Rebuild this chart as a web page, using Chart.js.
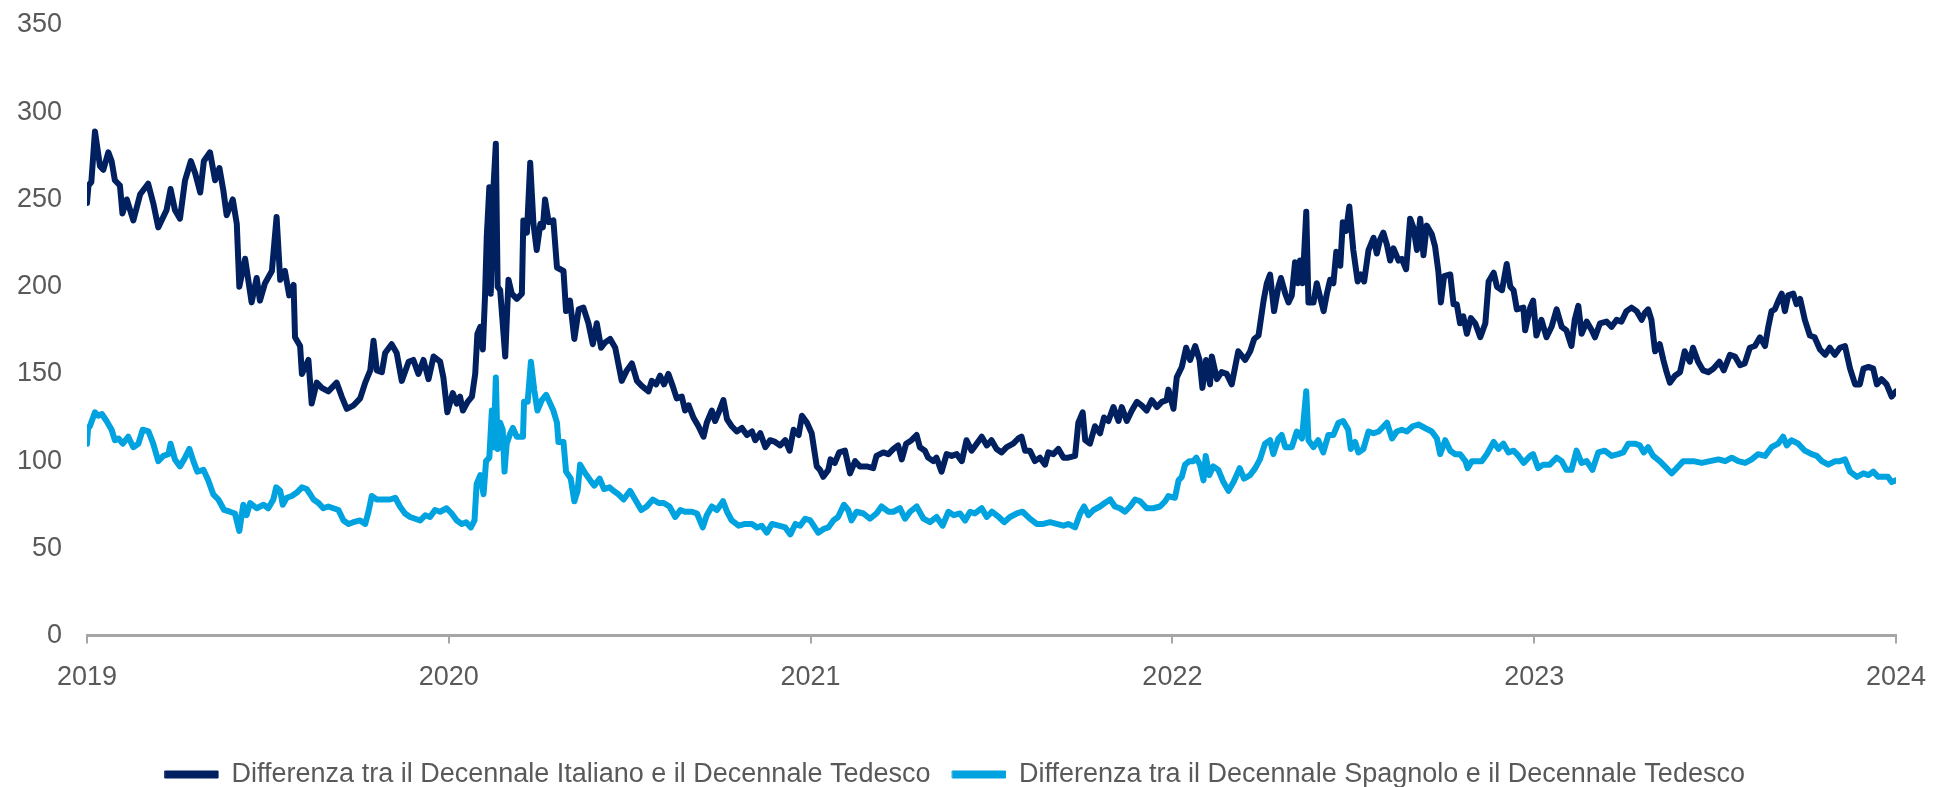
<!DOCTYPE html>
<html>
<head>
<meta charset="utf-8">
<script src="https://cdn.jsdelivr.net/npm/chart.js@4"></script>
<style>
  html, body { margin: 0; padding: 0; background: #ffffff; }
  #wrap { width: 1953px; height: 787px; }
</style>
</head>
<body>
<div id="wrap"><canvas id="chart" width="1953" height="787"></canvas></div>
<script>
// Spread vs Bund (bps), dates as decimal years
const itDates = [
  2019.000, 2019.004, 2019.012, 2019.022, 2019.036, 2019.045, 2019.059, 2019.068, 2019.077, 2019.091,
  2019.098, 2019.110, 2019.128, 2019.147, 2019.169, 2019.183, 2019.197, 2019.220, 2019.231, 2019.243,
  2019.257, 2019.271, 2019.287, 2019.299, 2019.313, 2019.323, 2019.340, 2019.354, 2019.366, 2019.377,
  2019.386, 2019.403, 2019.414, 2019.421, 2019.437, 2019.455, 2019.469, 2019.478, 2019.492, 2019.511,
  2019.524, 2019.534, 2019.547, 2019.559, 2019.571, 2019.575, 2019.589, 2019.594, 2019.612, 2019.621,
  2019.635, 2019.649, 2019.667, 2019.690, 2019.704, 2019.718, 2019.737, 2019.755, 2019.769, 2019.783,
  2019.792, 2019.801, 2019.815, 2019.824, 2019.842, 2019.856, 2019.870, 2019.889, 2019.902, 2019.916,
  2019.930, 2019.944, 2019.958, 2019.976, 2019.985, 2019.996,
  2020.011, 2020.022, 2020.031, 2020.039, 2020.052, 2020.064, 2020.073, 2020.079, 2020.087, 2020.094,
  2020.100, 2020.105, 2020.112, 2020.116, 2020.124, 2020.130, 2020.135, 2020.142, 2020.149, 2020.156,
  2020.165, 2020.174, 2020.188, 2020.202, 2020.206, 2020.216, 2020.225, 2020.234, 2020.243, 2020.253,
  2020.260, 2020.266, 2020.276, 2020.289, 2020.299, 2020.317, 2020.324, 2020.335, 2020.347, 2020.359,
  2020.372, 2020.386, 2020.398, 2020.409, 2020.421, 2020.432, 2020.446, 2020.460, 2020.478, 2020.492,
  2020.506, 2020.520, 2020.534, 2020.552, 2020.561, 2020.573, 2020.584, 2020.595, 2020.607, 2020.619,
  2020.630, 2020.644, 2020.653, 2020.663, 2020.676, 2020.690, 2020.704, 2020.713, 2020.727, 2020.736,
  2020.748, 2020.759, 2020.769, 2020.782, 2020.796, 2020.810, 2020.824, 2020.838, 2020.847, 2020.861,
  2020.875, 2020.888, 2020.902, 2020.916, 2020.930, 2020.942, 2020.953, 2020.967, 2020.976, 2020.990,
  2021.003, 2021.017, 2021.026, 2021.035, 2021.049, 2021.055, 2021.067, 2021.079, 2021.095, 2021.109,
  2021.123, 2021.136, 2021.155, 2021.173, 2021.182, 2021.201, 2021.215, 2021.229, 2021.242, 2021.252,
  2021.264, 2021.279, 2021.293, 2021.302, 2021.316, 2021.325, 2021.339, 2021.348, 2021.362, 2021.376,
  2021.390, 2021.404, 2021.418, 2021.431, 2021.445, 2021.459, 2021.473, 2021.487, 2021.500, 2021.514,
  2021.528, 2021.542, 2021.560, 2021.574, 2021.583, 2021.593, 2021.606, 2021.620, 2021.634, 2021.648,
  2021.657, 2021.671, 2021.685, 2021.699, 2021.712, 2021.731, 2021.740, 2021.752, 2021.759, 2021.772,
  2021.786, 2021.800, 2021.811, 2021.823, 2021.837, 2021.851, 2021.860, 2021.874, 2021.888, 2021.902,
  2021.915, 2021.929, 2021.943, 2021.957, 2021.971, 2021.984, 2021.989,
  2022.003, 2022.012, 2022.026, 2022.038, 2022.049, 2022.063, 2022.075, 2022.083, 2022.093, 2022.104,
  2022.109, 2022.123, 2022.136, 2022.150, 2022.164, 2022.182, 2022.201, 2022.215, 2022.226, 2022.238,
  2022.252, 2022.261, 2022.270, 2022.281, 2022.293, 2022.300, 2022.312, 2022.321, 2022.330, 2022.339,
  2022.347, 2022.353, 2022.360, 2022.370, 2022.376, 2022.390, 2022.399, 2022.406, 2022.418, 2022.427,
  2022.436, 2022.445, 2022.453, 2022.464, 2022.471, 2022.480, 2022.489, 2022.500, 2022.512, 2022.521,
  2022.530, 2022.542, 2022.556, 2022.565, 2022.574, 2022.583, 2022.593, 2022.602, 2022.611, 2022.625,
  2022.634, 2022.646, 2022.657, 2022.666, 2022.676, 2022.685, 2022.694, 2022.703, 2022.717, 2022.726,
  2022.735, 2022.742, 2022.751, 2022.768, 2022.777, 2022.786, 2022.795, 2022.804, 2022.814, 2022.825,
  2022.837, 2022.851, 2022.865, 2022.874, 2022.888, 2022.897, 2022.911, 2022.924, 2022.934, 2022.943,
  2022.952, 2022.970, 2022.975, 2022.989, 2022.997,
  2023.006, 2023.020, 2023.034, 2023.048, 2023.062, 2023.076, 2023.089, 2023.103, 2023.112, 2023.122,
  2023.131, 2023.145, 2023.159, 2023.168, 2023.182, 2023.200, 2023.214, 2023.228, 2023.241, 2023.255,
  2023.269, 2023.283, 2023.297, 2023.306, 2023.315, 2023.324, 2023.334, 2023.347, 2023.357, 2023.366,
  2023.375, 2023.389, 2023.403, 2023.416, 2023.430, 2023.439, 2023.453, 2023.467, 2023.481, 2023.495,
  2023.512, 2023.524, 2023.541, 2023.555, 2023.569, 2023.582, 2023.596, 2023.610, 2023.624, 2023.638,
  2023.647, 2023.656, 2023.665, 2023.675, 2023.684, 2023.693, 2023.702, 2023.716, 2023.725, 2023.735,
  2023.748, 2023.762, 2023.775, 2023.790, 2023.804, 2023.817, 2023.831, 2023.845, 2023.859, 2023.873,
  2023.887, 2023.900, 2023.910, 2023.924, 2023.937, 2023.947, 2023.960, 2023.974, 2023.988, 2024.000
];
const itSpread = [
  248, 258, 260, 289, 269, 267, 277, 272, 261, 258,
  242, 250, 238, 253, 259, 248, 234, 244, 256, 244,
  239, 261, 272, 265, 254, 272, 277, 261, 268, 255,
  241, 250, 236, 200, 216, 191, 205, 192, 202, 209,
  240, 204, 209, 195, 201, 171, 166, 150, 158, 133,
  145, 142, 140, 145, 137, 130, 132, 136, 145, 152,
  169, 152, 151, 162, 167, 162, 146, 157, 158, 150,
  158, 147, 160, 157, 148, 128,
  139, 133, 137, 129, 134, 137, 150, 173, 177, 164,
  194, 229, 257, 196, 259, 282, 200, 198, 179, 160,
  204, 196, 193, 196, 238, 231, 271, 236, 221, 236,
  234, 250, 237, 238, 211, 209, 186, 192, 170, 187,
  188, 179, 167, 179, 165, 168, 170, 165, 146, 152,
  156, 146, 143, 140, 146, 144, 149, 144, 150, 143,
  136, 137, 129, 132, 125, 120, 114, 122, 129, 123,
  129, 135, 124, 120, 117, 119, 115, 117, 112, 116,
  108, 112, 111, 109, 112, 106, 118, 115, 126, 122,
  116, 97, 95, 91, 95, 101, 99, 105, 106, 93,
  100, 97, 97, 96, 103, 105, 104, 107, 109, 101,
  110, 112, 115, 108, 106, 102, 100, 102, 94, 104,
  103, 104, 100, 112, 106, 110, 114, 109, 112, 107,
  105, 108, 110, 113, 114, 106, 106, 100, 102, 98,
  105, 104, 107, 102, 102, 103, 122, 128, 112, 110,
  120, 116, 125, 123, 131, 123, 131, 123, 129, 134,
  132, 129, 135, 131, 134, 135, 141,
  130, 148, 154, 165, 158, 166, 158, 142, 158, 144,
  160, 147, 151, 150, 144, 163, 158, 163, 170, 172,
  192, 202, 207, 186, 200, 205, 196, 191, 195, 214,
  202, 215, 202, 243, 191, 191, 202, 196, 186, 196,
  204, 202, 220, 212, 237, 232, 246, 221, 203, 207,
  203, 221, 228, 219, 227, 231, 224, 215, 222, 215,
  216, 210, 239, 234, 221, 239, 218, 235, 230, 223,
  209, 191, 206, 207, 190, 190, 179, 183, 173, 182,
  179, 171, 179, 203, 208, 200, 198, 213, 200, 198,
  187, 188, 175, 188, 192,
  172, 181, 171, 177, 187, 177, 175, 166, 181, 189,
  173, 180, 175, 171, 179, 180, 177, 181, 180, 186,
  188, 186, 181, 185, 187, 181, 163, 167, 158, 151,
  145, 149, 151, 163, 157, 165, 157, 152, 151, 153,
  157, 152, 161, 160, 155, 156, 165, 166, 171, 166,
  177, 186, 187, 192, 196, 186, 195, 196, 190, 193,
  181, 172, 171, 164, 161, 165, 161, 165, 166, 153,
  144, 144, 153, 154, 153, 144, 147, 144, 137, 140
];

const esDates = [
  2019.000, 2019.003, 2019.008, 2019.022, 2019.031, 2019.041, 2019.054, 2019.068, 2019.077, 2019.087,
  2019.099, 2019.114, 2019.128, 2019.142, 2019.154, 2019.170, 2019.183, 2019.197, 2019.211, 2019.225,
  2019.231, 2019.243, 2019.257, 2019.271, 2019.283, 2019.294, 2019.305, 2019.322, 2019.335, 2019.349,
  2019.363, 2019.379, 2019.395, 2019.409, 2019.421, 2019.432, 2019.441, 2019.451, 2019.469, 2019.488,
  2019.501, 2019.515, 2019.523, 2019.534, 2019.541, 2019.552, 2019.566, 2019.580, 2019.594, 2019.607,
  2019.617, 2019.626, 2019.640, 2019.653, 2019.667, 2019.681, 2019.695, 2019.709, 2019.723, 2019.736,
  2019.755, 2019.769, 2019.778, 2019.787, 2019.801, 2019.819, 2019.838, 2019.852, 2019.865, 2019.879,
  2019.893, 2019.907, 2019.921, 2019.935, 2019.948, 2019.962, 2019.976, 2019.994,
  2020.008, 2020.022, 2020.036, 2020.048, 2020.061, 2020.071, 2020.077, 2020.087, 2020.096, 2020.103,
  2020.112, 2020.119, 2020.124, 2020.130, 2020.135, 2020.142, 2020.149, 2020.154, 2020.160, 2020.170,
  2020.177, 2020.188, 2020.205, 2020.208, 2020.218, 2020.227, 2020.236, 2020.245, 2020.257, 2020.269,
  2020.278, 2020.289, 2020.299, 2020.303, 2020.317, 2020.324, 2020.337, 2020.347, 2020.356, 2020.363,
  2020.377, 2020.391, 2020.402, 2020.417, 2020.429, 2020.444, 2020.455, 2020.469, 2020.483, 2020.501,
  2020.515, 2020.532, 2020.547, 2020.564, 2020.580, 2020.594, 2020.610, 2020.626, 2020.640, 2020.653,
  2020.672, 2020.686, 2020.702, 2020.713, 2020.727, 2020.741, 2020.758, 2020.769, 2020.782, 2020.801,
  2020.819, 2020.838, 2020.852, 2020.865, 2020.879, 2020.893, 2020.912, 2020.930, 2020.944, 2020.958,
  2020.971, 2020.985, 2020.999,
  2021.021, 2021.035, 2021.049, 2021.063, 2021.076, 2021.092, 2021.104, 2021.113, 2021.127, 2021.146,
  2021.164, 2021.182, 2021.196, 2021.215, 2021.229, 2021.247, 2021.261, 2021.275, 2021.293, 2021.312,
  2021.330, 2021.348, 2021.365, 2021.381, 2021.396, 2021.413, 2021.427, 2021.441, 2021.454, 2021.473,
  2021.487, 2021.501, 2021.520, 2021.535, 2021.551, 2021.570, 2021.586, 2021.606, 2021.625, 2021.643,
  2021.662, 2021.680, 2021.699, 2021.712, 2021.731, 2021.745, 2021.756, 2021.768, 2021.782, 2021.800,
  2021.813, 2021.828, 2021.841, 2021.855, 2021.869, 2021.883, 2021.897, 2021.911, 2021.929, 2021.947,
  2021.966, 2021.980, 2021.989,
  2022.007, 2022.017, 2022.026, 2022.035, 2022.047, 2022.058, 2022.066, 2022.076, 2022.086, 2022.092,
  2022.102, 2022.113, 2022.127, 2022.141, 2022.155, 2022.169, 2022.186, 2022.198, 2022.215, 2022.229,
  2022.242, 2022.256, 2022.270, 2022.279, 2022.293, 2022.302, 2022.312, 2022.330, 2022.344, 2022.358,
  2022.370, 2022.376, 2022.390, 2022.403, 2022.417, 2022.431, 2022.445, 2022.459, 2022.472, 2022.486,
  2022.493, 2022.505, 2022.514, 2022.528, 2022.542, 2022.556, 2022.570, 2022.584, 2022.593, 2022.607,
  2022.620, 2022.634, 2022.648, 2022.664, 2022.680, 2022.698, 2022.717, 2022.731, 2022.740, 2022.754,
  2022.768, 2022.782, 2022.795, 2022.810, 2022.816, 2022.828, 2022.846, 2022.855, 2022.869, 2022.888,
  2022.901, 2022.915, 2022.929, 2022.943, 2022.957, 2022.971, 2022.989, 2022.997,
  2023.011, 2023.025, 2023.043, 2023.062, 2023.076, 2023.089, 2023.103, 2023.117, 2023.131, 2023.145,
  2023.161, 2023.177, 2023.195, 2023.214, 2023.232, 2023.246, 2023.260, 2023.278, 2023.292, 2023.303,
  2023.315, 2023.329, 2023.347, 2023.366, 2023.380, 2023.394, 2023.412, 2023.426, 2023.440, 2023.463,
  2023.486, 2023.509, 2023.528, 2023.546, 2023.564, 2023.583, 2023.601, 2023.619, 2023.638, 2023.656,
  2023.674, 2023.688, 2023.698, 2023.711, 2023.730, 2023.748, 2023.767, 2023.781, 2023.795, 2023.813,
  2023.832, 2023.845, 2023.859, 2023.873, 2023.892, 2023.910, 2023.924, 2023.937, 2023.951, 2023.965,
  2023.978, 2023.988, 2024.000
];
const esSpread = [
  110, 119, 120, 128, 126, 127, 123, 118, 112, 113,
  110, 114, 108, 110, 118, 117, 110, 100, 103, 104,
  110, 101, 97, 102, 107, 100, 94, 95, 89, 81,
  78, 72, 71, 70, 60, 75, 69, 76, 73, 75,
  73, 78, 85, 83, 75, 79, 80, 82, 85, 84,
  81, 78, 76, 73, 74, 73, 72, 66, 64, 65,
  66, 64, 71, 80, 78, 78, 78, 79, 74, 70,
  68, 67, 66, 69, 68, 72, 71, 73,
  70, 66, 64, 65, 62, 66, 87, 92, 81, 100,
  102, 129, 108, 148, 107, 122, 118, 94, 110, 116,
  119, 114, 114, 134, 134, 157, 141, 129, 135, 138,
  134, 129, 122, 111, 111, 94, 90, 77, 83, 98,
  93, 89, 86, 90, 84, 85, 83, 81, 78, 83,
  78, 72, 74, 78, 76, 76, 74, 68, 72, 71,
  71, 70, 62, 69, 74, 72, 77, 71, 66, 63,
  64, 64, 62, 63, 59, 64, 63, 62, 58, 64,
  63, 67, 66,
  59, 61, 62, 66, 68, 75, 72, 66, 71, 70,
  67, 70, 74, 71, 71, 73, 67, 71, 74, 67,
  65, 68, 63, 71, 69, 70, 66, 71, 70, 73,
  68, 71, 68, 65, 68, 70, 71, 67, 64, 64,
  65, 64, 63, 64, 62, 70, 74, 69, 72, 74,
  76, 78, 74, 73, 71, 74, 78, 77, 73, 73,
  74, 77, 80,
  79, 89, 91, 98, 100, 100, 102, 98, 89, 103,
  92, 97, 95, 88, 83, 88, 96, 90, 92, 96,
  101, 110, 112, 104, 113, 115, 108, 108, 117, 113,
  140, 112, 108, 112, 105, 115, 115, 122, 123, 118,
  107, 111, 105, 107, 117, 116, 117, 120, 122, 113,
  117, 118, 117, 120, 121, 119, 117, 113, 104, 112,
  106, 104, 104, 100, 96, 100, 100, 100, 104, 111,
  107, 110, 105, 106, 103, 99, 103, 104,
  96, 98, 98, 102, 100, 95, 95, 106, 99, 100,
  95, 105, 106, 103, 104, 105, 110, 110, 109, 105,
  108, 103, 100, 96, 93, 96, 100, 100, 100, 99,
  100, 101, 100, 102, 100, 99, 101, 104, 103, 108,
  110, 114, 109, 112, 110, 106, 104, 103, 100, 98,
  100, 100, 101, 94, 91, 93, 92, 94, 91, 91,
  91, 88, 89
];

const yearTicks = [2019, 2020, 2021, 2022, 2023, 2024];
const seriesNames = [
  'Differenza tra il Decennale Italiano e il Decennale Tedesco',
  'Differenza tra il Decennale Spagnolo e il Decennale Tedesco'
];
const seriesColors = ['#002060', '#00A3E0'];

const toPoints = (xs, ys) => xs.map((x, i) => ({ x: x, y: ys[i] }));

Chart.defaults.font.family = "'Liberation Sans', Arial, sans-serif";
const textGrey = '#595959';
const axisGrey = '#a6a6a6';
const fontSize = 27;

new Chart(document.getElementById('chart'), {
  type: 'line',
  data: {
    datasets: [
      {
        label: seriesNames[0],
        data: toPoints(itDates, itSpread),
        borderColor: seriesColors[0],
        backgroundColor: seriesColors[0],
        borderWidth: 6,
        pointRadius: 0,
        tension: 0,
        borderJoinStyle: 'round',
        borderCapStyle: 'round'
      },
      {
        label: seriesNames[1],
        data: toPoints(esDates, esSpread),
        borderColor: seriesColors[1],
        backgroundColor: seriesColors[1],
        borderWidth: 6,
        pointRadius: 0,
        tension: 0,
        borderJoinStyle: 'round',
        borderCapStyle: 'round'
      }
    ]
  },
  options: {
    responsive: false,
    animation: false,
    devicePixelRatio: 1,
    layout: { padding: { left: 14, right: 57, top: 25, bottom: -11 } },
    plugins: {
      tooltip: { enabled: false },
      legend: {
        position: 'bottom',
        labels: {
          boxWidth: 53,
          boxHeight: 7,
          padding: 22,
          color: textGrey,
          font: { size: fontSize },
          generateLabels: chart =>
            Chart.defaults.plugins.legend.labels.generateLabels(chart).map(l => ({ ...l, lineWidth: 1 }))
        }
      }
    },
    scales: {
      x: {
        type: 'linear',
        min: yearTicks[0],
        max: yearTicks[yearTicks.length - 1],
        afterBuildTicks: axis => { axis.ticks = yearTicks.map(v => ({ value: v })); },
        afterFit: axis => { axis.height = axis.height + 27; },
        ticks: {
          callback: v => String(v),
          color: textGrey,
          font: { size: fontSize },
          padding: 18,
          maxRotation: 0
        },
        grid: {
          display: true,
          drawOnChartArea: false,
          drawTicks: true,
          tickLength: 8,
          color: axisGrey,
          lineWidth: 2
        },
        border: { display: true, color: axisGrey, width: 3 }
      },
      y: {
        min: 0,
        max: 350,
        afterFit: axis => {
          axis.width = 73;
          axis.paddingTop = 0;
          axis.paddingBottom = 0;
        },
        ticks: { stepSize: 50, padding: 25, color: textGrey, font: { size: fontSize } },
        grid: { display: false, drawTicks: false },
        border: { display: false }
      }
    }
  }
});
</script>
</body>
</html>
